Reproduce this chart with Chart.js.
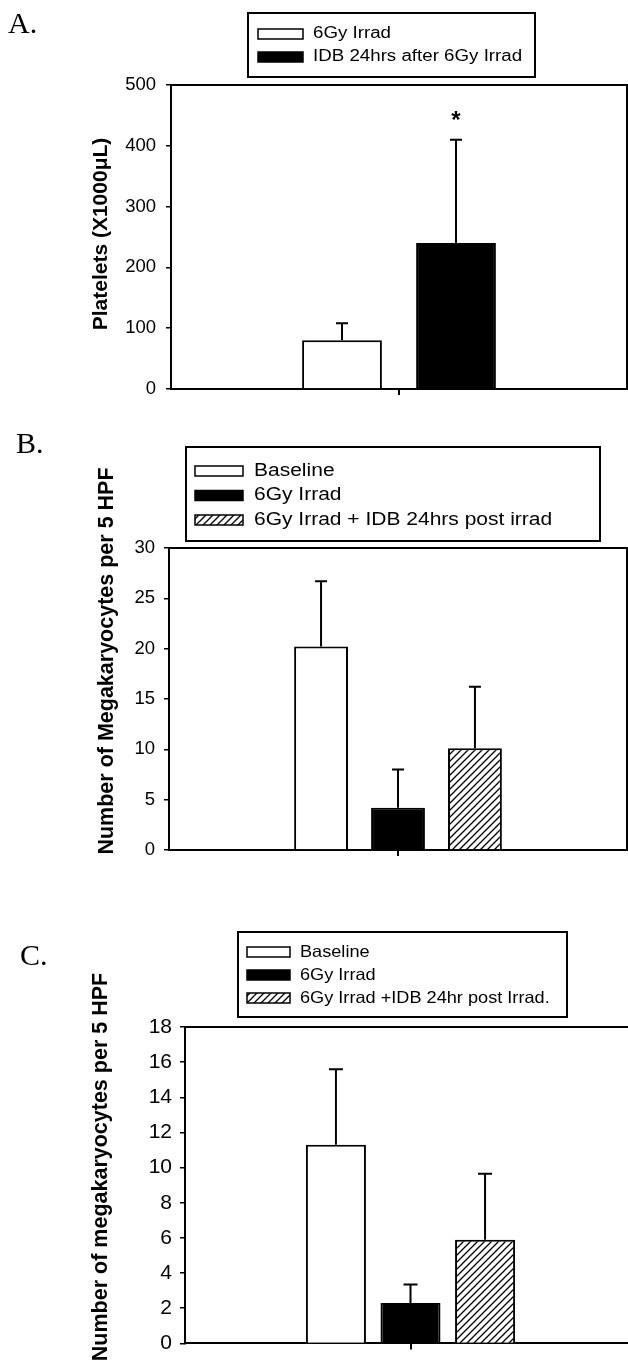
<!DOCTYPE html>
<html>
<head>
<meta charset="utf-8">
<script src="https://cdn.jsdelivr.net/npm/chart.js@4.4.0/dist/chart.umd.min.js"></script>
<style>
  html, body { margin: 0; padding: 0; background: #fff; overflow: hidden; }
  body { width: 628px; height: 1364px; position: relative; }
  canvas { position: absolute; left: 0; }
</style>
</head>
<body>
<canvas id="chartA" width="628" height="410" style="top:0px"></canvas>
<canvas id="chartB" width="628" height="450" style="top:420px"></canvas>
<canvas id="chartC" width="640" height="464" style="top:900px"></canvas>
<script>
// Panel A - platelets
const groupsA = ['6Gy Irrad', 'IDB 24hrs after 6Gy Irrad'];
const meansA = [80, 240];
const errorsA = [28, 170];
const starsA = ['', '*'];
const ticksA = [0, 100, 200, 300, 400, 500];

// Panel B - megakaryocytes
const groupsB = ['Baseline', '6Gy Irrad', '6Gy Irrad + IDB 24hrs post irrad'];
const meansB = [20.2, 4.2, 10.1];
const errorsB = [6.5, 3.8, 6.1];
const ticksB = [0, 5, 10, 15, 20, 25, 30];

// Panel C - megakaryocytes (second experiment)
const groupsC = ['Baseline', '6Gy Irrad', '6Gy Irrad +IDB 24hr post Irrad.'];
const meansC = [11.3, 2.3, 5.9];
const errorsC = [4.3, 1.05, 3.75];
const ticksC = [0, 2, 4, 6, 8, 10, 12, 14, 16, 18];

const SANS = '"Liberation Sans", Arial, sans-serif';
const SERIF = '"Liberation Serif", "Times New Roman", serif';

// diagonal hatch used for the third group
function makeHatch() {
    const c = document.createElement('canvas');
    c.width = 7;
    c.height = 7;
    const g = c.getContext('2d');
    g.fillStyle = '#fff';
    g.fillRect(0, 0, 7, 7);
    g.strokeStyle = '#000';
    g.lineWidth = 1.3;
    g.beginPath();
    g.moveTo(-1, 8); g.lineTo(8, -1);
    g.moveTo(-1, 1); g.lineTo(1, -1);
    g.moveTo(6, 8); g.lineTo(8, 6);
    g.stroke();
    return g.createPattern(c, 'repeat');
}
const hatch = makeHatch();

// error bars, stars, frame, legend, axis title and panel letter
const decorPlugin = {
    id: 'decor',
    afterDatasetsDraw(chart) {
        const d = chart.options.plugins.decor;
        const ctx = chart.ctx;
        const y = chart.scales.y;
        ctx.save();
        ctx.strokeStyle = '#000';
        ctx.fillStyle = '#000';
        ctx.lineWidth = 2;
        chart.data.datasets.forEach((ds, i) => {
            const bar = chart.getDatasetMeta(i).data[0];
            const top = y.getPixelForValue(d.means[i] + d.errors[i]);
            ctx.beginPath();
            ctx.moveTo(bar.x, bar.y);
            ctx.lineTo(bar.x, top);
            ctx.moveTo(bar.x - d.cap, top);
            ctx.lineTo(bar.x + d.cap, top);
            ctx.stroke();
            if (d.stars && d.stars[i]) {
                ctx.font = 'bold 24px ' + SANS;
                ctx.textAlign = 'center';
                ctx.textBaseline = 'alphabetic';
                ctx.fillText(d.stars[i], bar.x, top - 12);
            }
        });
        ctx.restore();
    },
    afterDraw(chart) {
        const d = chart.options.plugins.decor;
        const ctx = chart.ctx;
        const a = chart.chartArea;
        ctx.save();
        ctx.strokeStyle = '#000';
        ctx.fillStyle = '#000';

        // top and right side of the frame
        ctx.lineWidth = 2;
        ctx.beginPath();
        ctx.moveTo(a.left, a.top);
        ctx.lineTo(a.right, a.top);
        ctx.lineTo(a.right, a.bottom);
        ctx.stroke();

        // panel letter
        ctx.font = '30px ' + SERIF;
        ctx.textAlign = 'left';
        ctx.textBaseline = 'alphabetic';
        ctx.fillText(d.letter, d.letterX, d.letterY);

        // rotated y title
        ctx.save();
        ctx.translate(d.titleX, d.titleY);
        ctx.rotate(-Math.PI / 2);
        ctx.font = 'bold ' + d.titleSize + 'px ' + SANS;
        ctx.textAlign = 'center';
        ctx.fillText(d.title, 0, 0);
        ctx.restore();

        // legend box
        const L = d.legend;
        ctx.lineWidth = 2;
        ctx.strokeRect(L.x1, L.y1, L.x2 - L.x1, L.y2 - L.y1);
        chart.data.datasets.forEach((ds, i) => {
            const cy = L.row0 + i * L.rowGap;
            ctx.fillStyle = ds.backgroundColor;
            ctx.fillRect(L.swX, cy - L.swH / 2, L.swW, L.swH);
            ctx.lineWidth = 1.5;
            ctx.strokeRect(L.swX, cy - L.swH / 2, L.swW, L.swH);
            ctx.fillStyle = '#000';
            ctx.save();
            ctx.translate(L.textX, cy);
            ctx.scale(L.sx, 1);
            ctx.font = L.size + 'px ' + SANS;
            ctx.textAlign = 'left';
            ctx.textBaseline = 'middle';
            ctx.fillText(ds.label, 0, 0);
            ctx.restore();
        });
        ctx.restore();
    }
};

function makePanel(id, p) {
    const fills = ['#ffffff', '#000000', hatch];
    const datasets = p.groups.map((g, i) => ({
        label: g,
        data: [p.means[i]],
        backgroundColor: fills[i],
        borderColor: '#000',
        borderWidth: 2,
        categoryPercentage: p.catPct,
        barPercentage: p.barPct
    }));

    return new Chart(document.getElementById(id), {
        type: 'bar',
        data: { labels: [''], datasets: datasets },
        options: {
            responsive: false,
            animation: false,
            layout: { padding: p.pad },
            plugins: {
                legend: { display: false },
                tooltip: { enabled: false },
                decor: Object.assign({ means: p.means, errors: p.errors, stars: p.stars }, p.decor)
            },
            scales: {
                x: {
                    ticks: { display: false },
                    grid: { offset: false, drawOnChartArea: false, tickLength: 6, color: '#000', lineWidth: 2 },
                    border: { color: '#000', width: 2 },
                    afterFit: s => { s.height = 10; }
                },
                y: {
                    min: p.ticks[0],
                    max: p.ticks[p.ticks.length - 1],
                    ticks: {
                        stepSize: p.ticks[1] - p.ticks[0],
                        color: '#000',
                        padding: p.tickPad,
                        font: { family: SANS, size: p.tickSize }
                    },
                    grid: { drawOnChartArea: false, tickLength: 5, color: '#000', lineWidth: 1.5 },
                    border: { color: '#000', width: 2 },
                    afterFit: s => { s.width = 60; }
                }
            }
        },
        plugins: [decorPlugin]
    });
}

makePanel('chartA', {
    groups: groupsA, means: meansA, errors: errorsA, stars: starsA, ticks: ticksA,
    catPct: 0.5, barPct: 0.70, tickSize: 18.5, tickPad: 10,
    pad: { left: 111, top: 85, right: 1, bottom: 9 },
    decor: {
        cap: 6, letter: 'A.', letterX: 8, letterY: 33,
        title: 'Platelets (X1000\u03bcL)', titleX: 107, titleY: 234, titleSize: 21,
        legend: { x1: 248, y1: 13, x2: 535, y2: 77, swX: 258, swW: 45, swH: 10,
                  row0: 34, rowGap: 23, textX: 313, size: 16, sx: 1.17 }
    }
});

makePanel('chartB', {
    groups: groupsB, means: meansB, errors: errorsB, ticks: ticksB,
    catPct: 0.504, barPct: 0.70, tickSize: 18.5, tickPad: 9,
    pad: { left: 109, top: 128, right: 1, bottom: 9 },
    decor: {
        cap: 6, letter: 'B.', letterX: 16, letterY: 33,
        title: 'Number of Megakaryocytes per 5 HPF', titleX: 113, titleY: 241, titleSize: 21.5,
        legend: { x1: 186, y1: 27, x2: 600, y2: 121, swX: 195, swW: 48, swH: 10,
                  row0: 51, rowGap: 24.5, textX: 254, size: 17.5, sx: 1.2 }
    }
});

makePanel('chartC', {
    groups: groupsC, means: meansC, errors: errorsC, ticks: ticksC,
    catPct: 0.496, barPct: 0.805, tickSize: 21, tickPad: 8,
    pad: { left: 125, top: 127, right: 4, bottom: 10 },
    decor: {
        cap: 7, letter: 'C.', letterX: 20, letterY: 65,
        title: 'Number of megakaryocytes per 5 HPF', titleX: 107, titleY: 267, titleSize: 21.5,
        legend: { x1: 238, y1: 32, x2: 567, y2: 117, swX: 247, swW: 43, swH: 10,
                  row0: 52, rowGap: 23, textX: 300, size: 16.5, sx: 1.1 }
    }
});
</script>
</body>
</html>
